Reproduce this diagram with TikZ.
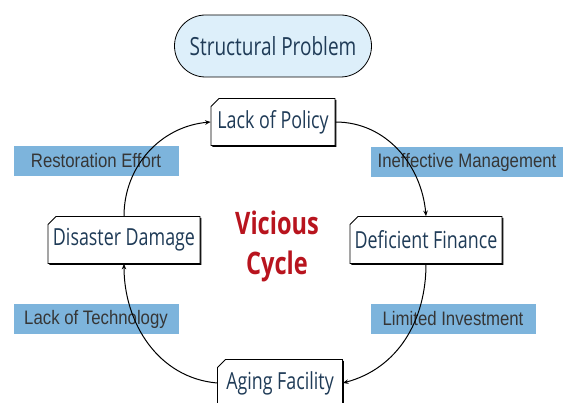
\documentclass[tikz,border=0pt]{standalone}
\usepackage{fontspec}
\setmainfont{Open Sans}
\newfontfamily\boxfont[FakeStretch=0.76]{Open Sans}
\newfontfamily\labfont[FakeStretch=0.86]{Liberation Sans}
\newfontfamily\vcfont[FakeStretch=0.76]{Open Sans Bold}
\usetikzlibrary{shapes.misc,shadows,arrows.meta}
\definecolor{boxtext}{HTML}{1F3B57}
\definecolor{labfill}{HTML}{7DB4DC}
\definecolor{labtext}{HTML}{363636}
\definecolor{pillfill}{HTML}{DDEFFA}
\definecolor{vcred}{HTML}{B8141E}
\tikzset{
  cyclebox/.style={chamfered rectangle, chamfered rectangle corners=north west,
    chamfered rectangle xsep=4pt, chamfered rectangle ysep=4pt,
    draw=black, line width=0.8pt, fill=white, inner sep=0pt,
    minimum height=47pt, text=boxtext,
    font=\boxfont\fontsize{23.5}{26}\selectfont,
    drop shadow={shadow xshift=1.3pt, shadow yshift=-1.3pt, fill=black, opacity=1}},
  lab/.style={fill=labfill, draw=none, inner sep=0pt, minimum height=30pt,
    text=labtext, font=\labfont\fontsize{19.5}{22}\selectfont},
  pill/.style={rounded rectangle, draw=black, line width=0.8pt, fill=pillfill,
    minimum width=197pt, minimum height=62pt, inner sep=0pt, text=boxtext,
    font=\boxfont\fontsize{25}{28}\selectfont},
  cyc/.style={line width=1pt, -{Stealth[length=5.5pt,width=4.5pt]}}
}
\begin{document}
\begin{tikzpicture}[x=1pt,y=-1pt]
\useasboundingbox (0,0) rectangle (569,403);
\node[pill] (sp) at (273,46) {Structural Problem};
\node[lab, minimum width=165pt] (re) at (96,161) {Restoration Effort};
\node[lab, minimum width=165pt] (lt) at (96,319) {Lack of Technology};
\node[lab, minimum width=192pt] (im) at (467,162) {Ineffective Management};
\node[lab, minimum width=165pt] (li) at (453,319) {Limited Investment};
\node[cyclebox, minimum width=124pt] (lp) at (273,122) {Lack of Policy};
\node[cyclebox, minimum width=152pt] (df) at (426,240) {Deficient Finance};
\node[cyclebox, minimum width=152pt] (dd) at (124,240) {Disaster Damage};
\node[cyclebox, minimum width=125pt] (af) at (280,383) {Aging Facility};
\node[text=vcred, font=\vcfont\fontsize{31}{40}\selectfont, align=center] (vc) at (277,246) {Vicious\\Cycle};
\draw[cyc] (dd.north) to[out=90,in=185] (lp.west);
\draw[cyc] (lp.east) to[out=0,in=95] (df.north);
\draw[cyc] (df.south) to[out=-90,in=15] (af.east);
\draw[cyc] (af.west) to[out=175,in=-90] (dd.south);
\end{tikzpicture}
\end{document}
